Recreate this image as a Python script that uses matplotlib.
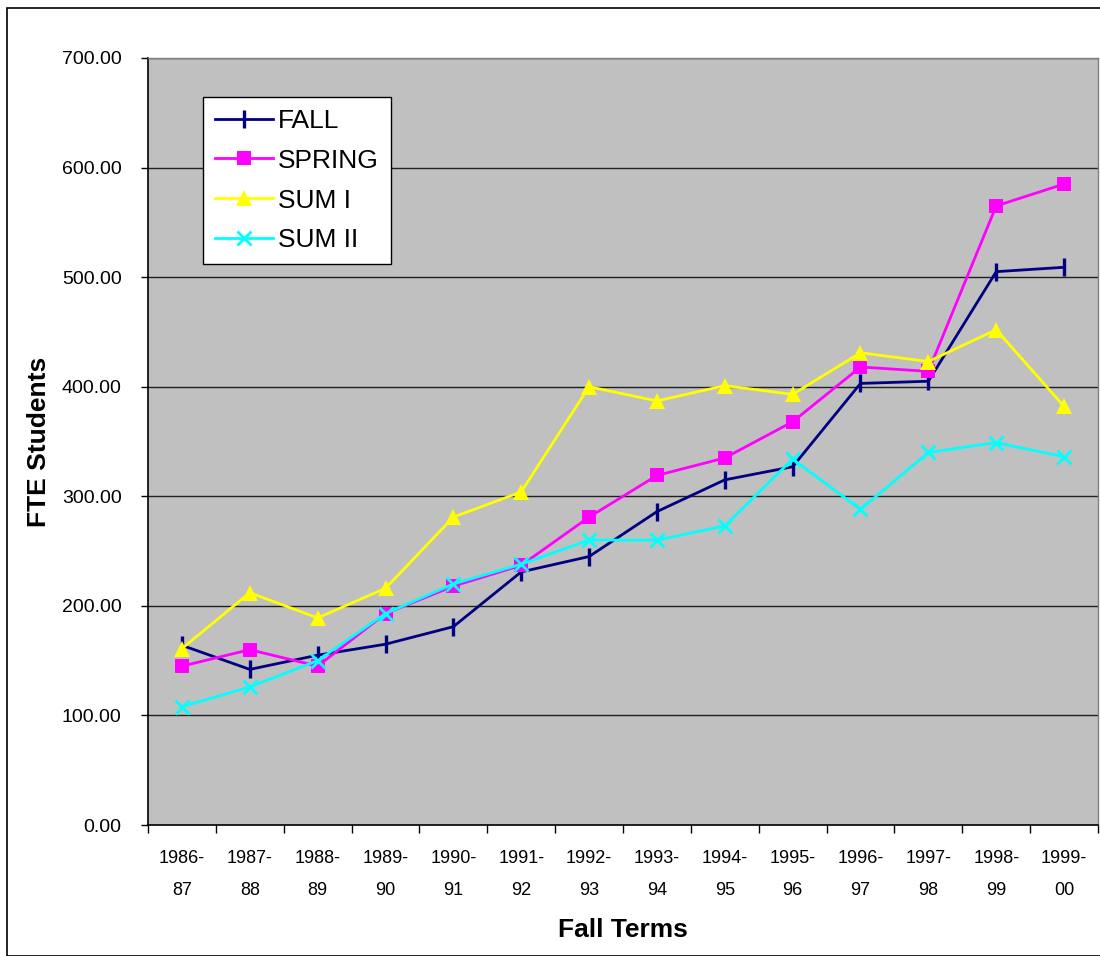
import matplotlib
matplotlib.use("Agg")
import matplotlib.pyplot as plt
from matplotlib.patches import Rectangle

plt.rcParams['font.family'] = ['Liberation Sans', 'DejaVu Sans']

categories = ["1986-\n87", "1987-\n88", "1988-\n89", "1989-\n90", "1990-\n91",
              "1991-\n92", "1992-\n93", "1993-\n94", "1994-\n95", "1995-\n96",
              "1996-\n97", "1997-\n98", "1998-\n99", "1999-\n00"]
fall = [164, 142, 155, 165, 181, 231, 245, 286, 315, 327, 403, 405, 505, 509]
spring = [145, 160, 145, 193, 218, 237, 281, 319, 335, 368, 418, 414, 565, 585]
sum1 = [161, 212, 189, 216, 281, 304, 400, 387, 401, 393, 431, 423, 452, 382]
sum2 = [108, 126, 150, 193, 220, 238, 260, 260, 273, 334, 288, 340, 349, 336]
yticks = [0, 100, 200, 300, 400, 500, 600, 700]

fig = plt.figure(figsize=(11, 9.56), dpi=100)
fig.patches.append(Rectangle((7/1100, 0), 1.2, (956-8)/956, transform=fig.transFigure,
                             fill=False, edgecolor='black', linewidth=1.2))

ax = fig.add_axes([148/1100, 131/956, 950/1100, 767/956])
ax.set_facecolor('#C0C0C0')
x = list(range(len(categories)))

ax.plot(x, fall, color='#000080', lw=2, marker='|', ms=13, mew=2.4, label='FALL', zorder=3)
ax.plot(x, spring, color='#FF00FF', lw=2, marker='s', ms=10, mew=0, label='SPRING', zorder=3)
ax.plot(x, sum1, color='#FFFF00', lw=2, marker='^', ms=12, mew=0, label='SUM I', zorder=3)
ax.plot(x, sum2, color='#00FFFF', lw=2, marker='x', ms=10, mew=2, label='SUM II', zorder=3)

ax.set_xlim(-0.5, len(categories) - 0.5)
ax.set_ylim(0, 700)
ax.set_yticks(yticks)
ax.set_yticklabels([f"{v:.2f}" for v in yticks], fontsize=14)
for v in yticks[1:]:
    ax.axhline(v, color='#202020', lw=1.0, zorder=1)

ax.set_xticks(x)
ax.set_xticklabels(categories, fontsize=13, linespacing=2.15)
ax.set_xticks([i - 0.5 for i in range(len(categories) + 1)], minor=True)
ax.tick_params(axis='x', which='major', length=0, pad=18)
ax.tick_params(axis='x', which='minor', length=6, width=1, direction='out')
ax.tick_params(axis='y', length=5, width=1, direction='out', pad=14)

for s in ['top', 'right']:
    ax.spines[s].set_color('#808080')
    ax.spines[s].set_linewidth(1)
for s in ['left', 'bottom']:
    ax.spines[s].set_color('black')
    ax.spines[s].set_linewidth(1.2)

ax.set_ylabel('FTE Students', fontsize=19, fontweight='bold', labelpad=8)
ax.set_xlabel('Fall Terms', fontsize=19, fontweight='bold', labelpad=14)

leg = ax.legend(loc='upper left', bbox_to_anchor=((203-148)/950, (825-97)/767),
                borderaxespad=0, fontsize=19, frameon=True, fancybox=False,
                edgecolor='black', framealpha=1, handlelength=2.2, handletextpad=0.2,
                labelspacing=0.6, borderpad=0.45)
leg.get_frame().set_linewidth(1)

fig.savefig('out.png', dpi=100)
